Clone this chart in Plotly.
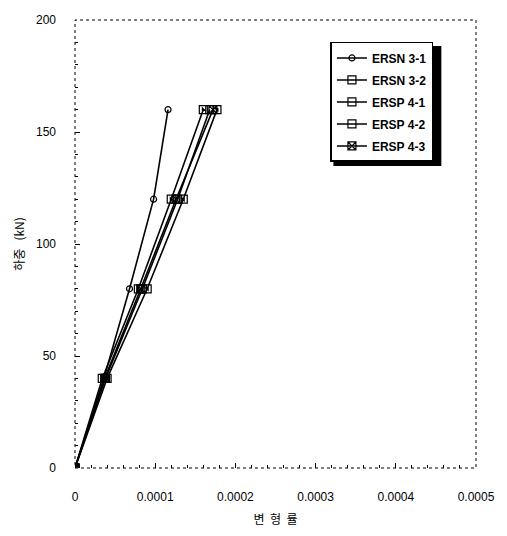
import plotly.graph_objects as go

loads = [0, 40, 80, 120, 160]
ersn31 = [0, 0.000036, 0.000068, 0.000098, 0.000116]
ersn32 = [0, 0.000038, 0.000084, 0.000128, 0.000168]
ersp41 = [0, 0.000034, 0.000079, 0.000120, 0.000160]
ersp42 = [0, 0.000040, 0.000090, 0.000135, 0.000177]
ersp43 = [0, 0.000037, 0.000082, 0.000126, 0.000172]

names = ["ERSN 3-1", "ERSN 3-2", "ERSP 4-1", "ERSP 4-2", "ERSP 4-3"]
series = [ersn31, ersn32, ersp41, ersp42, ersp43]
symbols = ["circle-open", "square-open", "square-open", "square-open", "square-x-open"]
sizes = [6, 8, 8, 8, 8]
overlay = [None, None, "triangle-sw", "triangle-ne", None]

fig = go.Figure()
for i, (nm, s, sym, sz) in enumerate(zip(names, series, symbols, sizes)):
    fig.add_trace(go.Scatter(
        x=s, y=loads, name=nm, mode="lines+markers", legendgroup=f"g{i}",
        line=dict(color="black", width=1.6),
        marker=dict(symbol=sym, size=sz, color="black", line=dict(color="black", width=1.2)),
    ))
for nm, s, ov in zip(names, series, overlay):
    if ov:
        fig.add_trace(go.Scatter(
            x=s, y=loads, mode="markers", showlegend=False, hoverinfo="skip",
            marker=dict(symbol=ov, size=5, color="black", line=dict(width=0)),
        ))

black = "#000000"
font = dict(family="Arial, Liberation Sans, sans-serif", size=12, color=black)
kfont = dict(family="Noto Sans CJK KR", size=12, color=black)

fig.update_layout(
    width=507, height=536,
    margin=dict(l=75, r=27, t=20, b=68),
    paper_bgcolor="white", plot_bgcolor="white",
    font=font,
    showlegend=True,
    legend=dict(
        x=0.637, y=0.951, xanchor="left", yanchor="top",
        bgcolor="white", bordercolor=black, borderwidth=1.5,
        font=dict(family="Arial, Liberation Sans, sans-serif", size=12, color=black, weight="bold"),
        itemwidth=30, tracegroupgap=3,
    ),
    xaxis=dict(
        range=[0, 0.0005], tickvals=[0, 0.0001, 0.0002, 0.0003, 0.0004, 0.0005],
        ticktext=["0", "0.0001", "0.0002", "0.0003", "0.0004", "0.0005"],
        showgrid=False, zeroline=False, showline=False,
        ticks="inside", ticklen=5, tickcolor=black, mirror=True,
        minor=dict(dtick=0.00002, ticks="inside", ticklen=3, tickcolor=black),
        ticklabelstandoff=20,
        title=dict(text="변\u00a0\u00a0형\u00a0\u00a0률", font=kfont, standoff=12),
    ),
    yaxis=dict(
        range=[0, 200], tickvals=[0, 50, 100, 150, 200],
        showgrid=False, zeroline=False, showline=False,
        ticks="inside", ticklen=5, tickcolor=black, mirror=True,
        minor=dict(dtick=10, ticks="inside", ticklen=3, tickcolor=black),
        ticklabelstandoff=18,
        title=dict(text="하중\u00a0\u00a0\u00a0(kN)", font=kfont, standoff=8),
    ),
    shapes=[
        dict(type="rect", xref="paper", yref="paper", x0=0, y0=0, x1=1, y1=1,
             line=dict(color=black, width=1, dash="dot"), layer="below"),
        dict(type="rect", xref="paper", yref="paper",
             x0=(336 - 75) / 405, x1=(445 - 75) / 405,
             y0=1 - (166 - 20) / 448, y1=1 - (46 - 20) / 448,
             fillcolor=black, line=dict(width=0), layer="above"),
    ],
)

fig.write_html("out.html")
